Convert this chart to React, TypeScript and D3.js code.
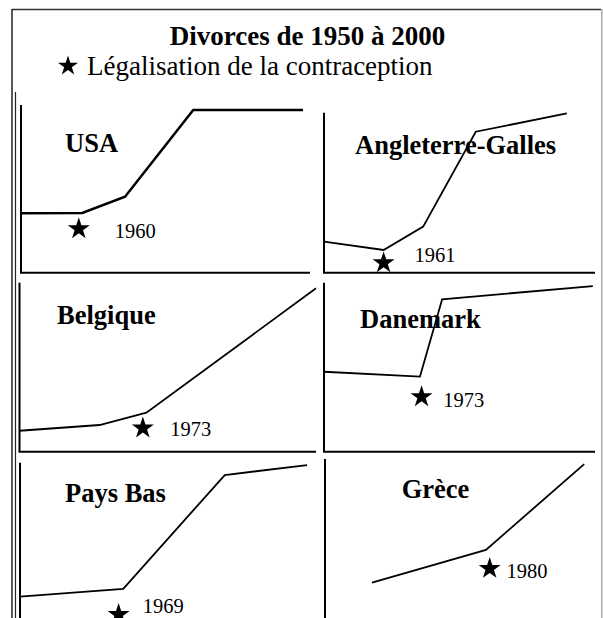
import React from "react";
import * as d3 from "d3";

// values: years along each x axis, index 0..100 on y
const countries = ["USA", "Angleterre-Galles", "Belgique", "Danemark", "Pays Bas", "Grèce"];
const legalLabels = ["1960", "1961", "1973", "1973", "1969", "1980"];

const seriesYears = [
  [1950, 1960.6, 1968, 1979.8, 1998.8],
  [1950, 1961, 1968.3, 1978, 1994.8],
  [1950, 1963.5, 1971.4, 2000],
  [1950, 1967.7, 1971.8, 1999.6],
  [1950, 1967.8, 1985.3, 1999.5],
  [1958.7, 1979.8, 1998],
];
const seriesValues = [
  [35.4, 35.6, 45.3, 97, 97],
  [19.4, 14.2, 28.8, 88.1, 99.6],
  [12.4, 15.8, 23.1, 96.7],
  [47.3, 44.4, 90.2, 98],
  [20.7, 25.3, 92.7, 98.6],
  [26.8, 46.2, 97],
];
const starYears = [1960, 1961, 1970.8, 1968, 1967, 1980.5];
const starValues = [26.1, 6.1, 14.0, 32.5, 10.1, 35.2];

// panel frames (layout only)
const panels = [
  {x0: 21, x1: 310, top: 105, bottom: 272.7, lx: 65, ly: 151.7, dx: 36, dy: 8.7, lw: 2.5},
  {x0: 324, x1: 595, top: 112.7, bottom: 272.7, lx: 355, ly: 154, dx: 31, dy: -1.3, lw: 1.8},
  {x0: 19.5, x1: 316, top: 282.7, bottom: 451.7, lx: 57, ly: 324, dx: 27.4, dy: 7.7, lw: 1.8},
  {x0: 324, x1: 595, top: 282.7, bottom: 451.7, lx: 360, ly: 328.3, dx: 21.6, dy: 10.5, lw: 1.8},
  {x0: 20, x1: 310, top: 462.7, bottom: 631.7, lx: 65, ly: 501.7, dx: 24.2, dy: -1.4, lw: 1.8},
  {x0: 325, x1: 595, top: 459, bottom: 628, lx: 401.7, ly: 498.3, dx: 16.7, dy: 9.8, lw: 1.8},
];

const font = "'Liberation Serif', 'Times New Roman', serif";
const starPath = d3.symbol().type(d3.symbolStar).size(150)();
const legendStar = d3.symbol().type(d3.symbolStar).size(125)();

export default function App() {
  return (
    <svg
      width={603}
      height={618}
      style={{position: "absolute", left: 0, top: 0, background: "#fff"}}
      fontFamily={font}
    >
      {/* page frame */}
      <line x1={12} y1={9.5} x2={601} y2={9.5} stroke="#333" strokeWidth={1.5} />
      <line x1={12} y1={9} x2={12} y2={618} stroke="#222" strokeWidth={1.5} />
      <line x1={15.5} y1={92} x2={15.5} y2={618} stroke="#222" strokeWidth={1.2} />
      <line x1={601.8} y1={9} x2={601.8} y2={618} stroke="#aaa" strokeWidth={1.5} />

      <text x={307.5} y={45} textAnchor="middle" fontWeight="bold" fontSize={27}>
        Divorces de 1950 à 2000
      </text>
      <path d={legendStar} transform="translate(68,66)" fill="#000" />
      <text x={87} y={75} fontSize={27}>
        Légalisation de la contraception
      </text>

      {panels.map((p, i) => {
        const x = d3.scaleLinear().domain([1950, 2000]).range([p.x0, p.x1]);
        const y = d3.scaleLinear().domain([0, 100]).range([p.bottom, p.top]);
        const pts = seriesYears[i].map((yr, j) => [yr, seriesValues[i][j]]);
        const line = d3
          .line()
          .x((d) => x(d[0]))
          .y((d) => y(d[1]));
        const sx = x(starYears[i]);
        const sy = y(starValues[i]);
        return (
          <g key={countries[i]}>
            <text x={p.lx} y={p.ly} fontWeight="bold" fontSize={26.5}>
              {countries[i]}
            </text>
            <path d={line(pts)} fill="none" stroke="#000" strokeWidth={p.lw} strokeLinejoin="miter" />
            <line x1={x.range()[0]} y1={y.range()[1]} x2={x.range()[0]} y2={y.range()[0]} stroke="#000" strokeWidth={2} />
            <line x1={x.range()[0] - 1} y1={y.range()[0]} x2={x.range()[1]} y2={y.range()[0]} stroke="#000" strokeWidth={2} />
            <path d={starPath} transform={`translate(${sx},${sy})`} fill="#000" />
            <text x={sx + p.dx} y={sy + p.dy} fontSize={20.5}>
              {legalLabels[i]}
            </text>
          </g>
        );
      })}
    </svg>
  );
}
